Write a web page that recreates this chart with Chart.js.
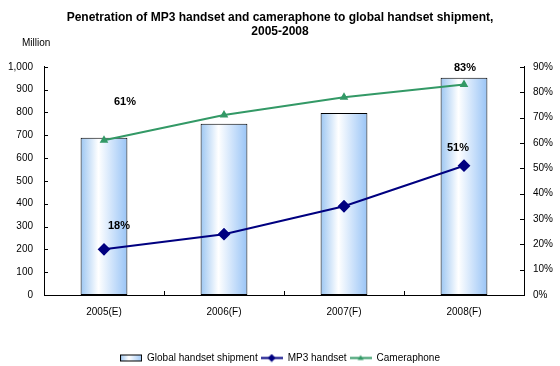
<!DOCTYPE html>
<html>
<head>
<meta charset="utf-8">
<script src="https://cdn.jsdelivr.net/npm/chart.js@4.4.1/dist/chart.umd.min.js"></script>
<style>
  html, body { margin: 0; padding: 0; background: #fff; }
  #wrap { width: 560px; height: 366px; }
</style>
</head>
<body>
<div id="wrap"><canvas id="penChart" width="560" height="366"></canvas></div>
<script>
// Chart data
const years = ['2005(E)', '2006(F)', '2007(F)', '2008(F)'];
const shipments = [689, 750, 798, 952];      // million units
const mp3Share = [18, 24, 35, 51];           // %
const cameraShare = [61, 71, 78, 83];        // %
const leftTicks = [0, 100, 200, 300, 400, 500, 600, 700, 800, 900, 1000];
const rightTicks = [0, 10, 20, 30, 40, 50, 60, 70, 80, 90];

const FONT = '"Liberation Sans", Arial, sans-serif';

// small legend swatches (canvas images used as point styles)
function makeSwatch(kind) {
    const c = document.createElement('canvas');
    c.width = 22; c.height = 9;
    const g = c.getContext('2d');
    if (kind === 'bar') {
        const gr = g.createLinearGradient(0, 0, 22, 0);
        gr.addColorStop(0, '#9cc6f2');
        gr.addColorStop(0.4, '#ffffff');
        gr.addColorStop(1, '#9cc6f5');
        g.fillStyle = gr;
        g.fillRect(0.5, 1.5, 21, 6);
        g.strokeStyle = '#000';
        g.lineWidth = 1;
        g.strokeRect(0.5, 1.5, 21, 6);
    } else {
        const col = kind === 'mp3' ? '#000080' : '#339966';
        g.strokeStyle = col;
        g.fillStyle = col;
        g.lineWidth = 2;
        g.beginPath(); g.moveTo(0, 4.5); g.lineTo(22, 4.5); g.stroke();
        g.beginPath();
        if (kind === 'mp3') {
            g.moveTo(11, 0.5); g.lineTo(15, 4.5); g.lineTo(11, 8.5); g.lineTo(7, 4.5);
        } else {
            g.moveTo(11, 1.5); g.lineTo(14, 6.5); g.lineTo(8, 6.5);
        }
        g.closePath(); g.fill();
    }
    return c;
}
const swatches = [makeSwatch('bar'), makeSwatch('mp3'), makeSwatch('cam')];

// bar fill: horizontal gradient per bar
function barFill(context) {
    const chart = context.chart;
    const xs = chart.scales.x;
    if (!xs || !chart.chartArea) return '#cfe3fa';
    const cx = xs.getPixelForValue(context.dataIndex);
    const half = (xs.width / years.length) * 0.39 / 2;
    const gr = chart.ctx.createLinearGradient(cx - half, 0, cx + half, 0);
    gr.addColorStop(0, '#9cc6f2');
    gr.addColorStop(0.38, '#ffffff');
    gr.addColorStop(1, '#99c4f6');
    return gr;
}

// inside tick marks, "Million" caption and the value labels
const extrasPlugin = {
    id: 'extras',
    afterDraw(chart) {
        const ctx = chart.ctx;
        const area = chart.chartArea;
        const yl = chart.scales.y;
        const yr = chart.scales.y1;
        const xs = chart.scales.x;
        ctx.save();
        ctx.strokeStyle = '#000';
        ctx.lineWidth = 1;
        ctx.beginPath();
        leftTicks.forEach(v => {
            const y = Math.round(yl.getPixelForValue(v)) + 0.5;
            ctx.moveTo(area.left, y); ctx.lineTo(area.left + 4, y);
        });
        rightTicks.forEach(v => {
            const y = Math.round(yr.getPixelForValue(v)) + 0.5;
            ctx.moveTo(area.right, y); ctx.lineTo(area.right - 4, y);
        });
        for (let i = 0; i < years.length - 1; i++) {
            const x = Math.round((xs.getPixelForValue(i) + xs.getPixelForValue(i + 1)) / 2) + 0.5;
            ctx.moveTo(x, area.bottom); ctx.lineTo(x, area.bottom - 4);
        }
        ctx.stroke();

        ctx.fillStyle = '#000';
        ctx.font = '10px ' + FONT;
        ctx.textAlign = 'left';
        ctx.textBaseline = 'middle';
        ctx.fillText('Million', 22, 43);

        // value labels on first and last points
        ctx.font = 'bold 11px ' + FONT;
        ctx.textAlign = 'center';
        const mp3Meta = chart.getDatasetMeta(1).data;
        const camMeta = chart.getDatasetMeta(2).data;
        const last = years.length - 1;
        ctx.fillText(cameraShare[0] + '%', camMeta[0].x + 21, camMeta[0].y - 38);
        ctx.fillText(mp3Share[0] + '%', mp3Meta[0].x + 15, mp3Meta[0].y - 23);
        ctx.fillText(mp3Share[last] + '%', mp3Meta[last].x - 6, mp3Meta[last].y - 18);
        ctx.fillText(cameraShare[last] + '%', camMeta[last].x + 1, camMeta[last].y - 17);
        ctx.restore();
    }
};

new Chart(document.getElementById('penChart'), {
    data: {
        labels: years,
        datasets: [
            {
                type: 'bar',
                label: 'Global handset shipment',
                data: shipments,
                yAxisID: 'y',
                backgroundColor: barFill,
                borderColor: '#000',
                borderWidth: 1,
                borderSkipped: false,
                barPercentage: 0.39,
                categoryPercentage: 1,
                order: 1
            },
            {
                type: 'line',
                label: 'MP3 handset',
                data: mp3Share,
                yAxisID: 'y1',
                borderColor: '#000080',
                backgroundColor: '#000080',
                borderWidth: 2,
                pointStyle: 'rectRot',
                pointRadius: 5,
                tension: 0,
                order: 0
            },
            {
                type: 'line',
                label: 'Cameraphone',
                data: cameraShare,
                yAxisID: 'y1',
                borderColor: '#339966',
                backgroundColor: '#339966',
                borderWidth: 2,
                pointStyle: 'triangle',
                pointRadius: 3,
                tension: 0,
                order: 0
            }
        ]
    },
    options: {
        responsive: false,
        animation: false,
        layout: { padding: { left: 0, right: 0, top: 0, bottom: -7 } },
        scales: {
            x: {
                offset: true,
                grid: { display: false, drawTicks: false },
                border: { display: true, color: '#000', width: 1 },
                ticks: { color: '#000', font: { family: FONT, size: 10 }, padding: 11, maxRotation: 0 },
                afterFit(scale) { scale.height = 55; }
            },
            y: {
                position: 'left',
                min: 0, max: 1000,
                grid: { display: false, drawTicks: false },
                border: { display: true, color: '#000', width: 1 },
                ticks: { stepSize: 100, color: '#000', font: { family: FONT, size: 10 }, padding: 11 },
                afterFit(scale) { scale.width = 44; }
            },
            y1: {
                position: 'right',
                min: 0, max: 90,
                grid: { display: false, drawTicks: false },
                border: { display: true, color: '#000', width: 1 },
                ticks: {
                    stepSize: 10, color: '#000', font: { family: FONT, size: 10 }, padding: 9,
                    callback: v => v + '%'
                },
                afterFit(scale) { scale.width = 36; }
            }
        },
        plugins: {
            title: {
                display: true,
                text: ['Penetration of MP3 handset and cameraphone to global handset shipment,', '2005-2008'],
                color: '#000',
                font: { family: FONT, size: 12, weight: 'bold', lineHeight: 1.2 },
                padding: { top: 10, bottom: 28 }
            },
            legend: {
                position: 'bottom',
                labels: {
                    color: '#000',
                    font: { family: FONT, size: 10 },
                    usePointStyle: true,
                    pointStyleWidth: 22,
                    boxHeight: 9,
                    padding: 3,
                    sort: (a, b) => a.datasetIndex - b.datasetIndex,
                    generateLabels(chart) {
                        const items = Chart.defaults.plugins.legend.labels.generateLabels(chart);
                        items.forEach(it => { it.pointStyle = swatches[it.datasetIndex]; it.rotation = 0; });
                        return items;
                    }
                }
            },
            tooltip: { enabled: false }
        }
    },
    plugins: [extrasPlugin]
});
</script>
</body>
</html>
